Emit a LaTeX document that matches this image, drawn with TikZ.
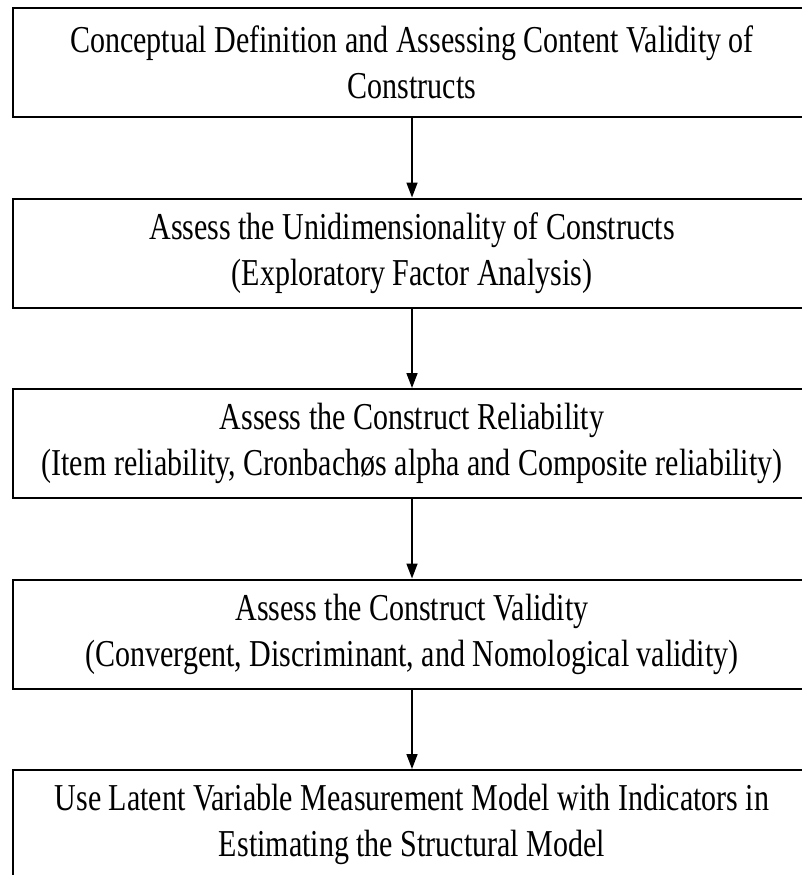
\documentclass[tikz,border=0pt]{standalone}
\usepackage{fontspec}
\setmainfont{Liberation Serif}[FakeStretch=0.79]
\usetikzlibrary{arrows.meta}
\tikzset{
  stage/.style={draw=black, line width=2pt, minimum width=798pt, minimum height=109pt,
    inner sep=0pt, align=center, font=\fontsize{38}{46}\selectfont},
  flow/.style={line width=1.6pt, -{Triangle[length=15pt,width=11pt]}}
}
\begin{document}
\begin{tikzpicture}[x=1pt,y=-1pt]
\useasboundingbox (0,0) rectangle (802,875);
\clip (0,0) rectangle (802,875);
\node[stage] (s1) at (412,62.5) {Conceptual Definition and Assessing Content Validity of\\Constructs};
\node[stage] (s2) at (412,253) {Assess the Unidimensionality of Constructs\\(Exploratory Factor Analysis)};
\node[stage] (s3) at (412,443.5) {Assess the Construct Reliability\\(Item reliability, Cronbachøs alpha and Composite reliability)};
\node[stage] (s4) at (412,634) {Assess the Construct Validity\\(Convergent, Discriminant, and Nomological validity)};
\node[stage] (s5) at (412,824.5) {Use Latent Variable Measurement Model with Indicators in\\Estimating the Structural Model};
\draw[flow] (s1.south) -- (s2.north);
\draw[flow] (s2.south) -- (s3.north);
\draw[flow] (s3.south) -- (s4.north);
\draw[flow] (s4.south) -- (s5.north);
\end{tikzpicture}
\end{document}
